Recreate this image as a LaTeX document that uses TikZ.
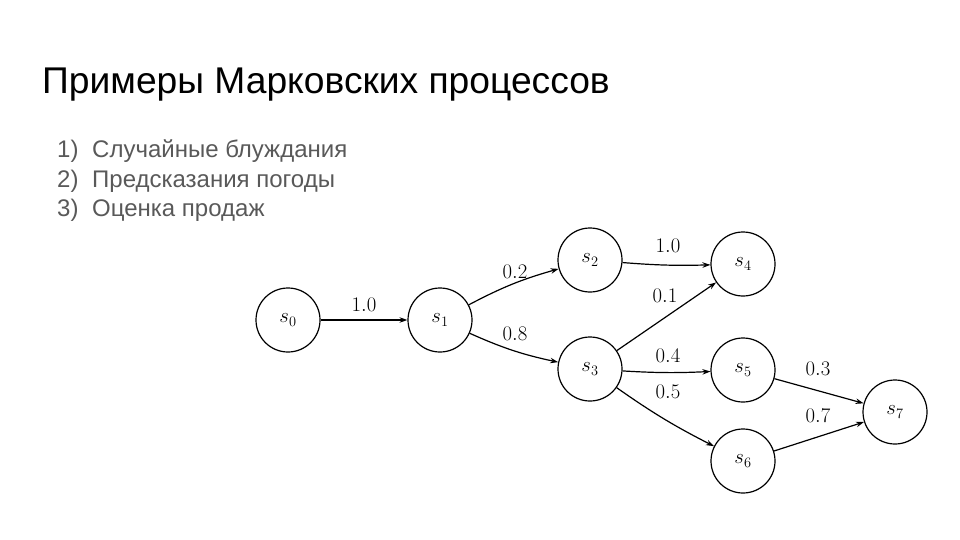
\documentclass[tikz,border=0pt]{standalone}
\usepackage{fontspec}
\setmainfont{Liberation Sans}
\usetikzlibrary{arrows.meta}
\definecolor{listgray}{HTML}{595959}
\tikzset{
  state/.style={circle, draw, line width=1.2pt, minimum size=64pt, inner sep=0pt, font=\fontsize{20}{24}\selectfont},
  trans/.style={line width=1.2pt, -{Stealth[length=8pt,width=5.5pt]}},
  prob/.style={font=\fontsize{20}{24}\selectfont, inner sep=0pt},
  title/.style={anchor=base west, font=\fontsize{37.2}{44}\selectfont, inner sep=0pt},
  item/.style={anchor=base west, text=listgray, font=\fontsize{24}{28}\selectfont, inner sep=0pt},
}
\begin{document}
\begin{tikzpicture}[x=1pt,y=-1pt]
\useasboundingbox (0,0) rectangle (960,540);
\node[title] (t) at (42,94) {Примеры Марковских процессов};
\node[item] (n1) at (57,158) {1)};
\node[item] (i1) at (92,158) {Случайные блуждания};
\node[item] (n2) at (57,187) {2)};
\node[item] (i2) at (92,187) {Предсказания погоды};
\node[item] (n3) at (57,216) {3)};
\node[item] (i3) at (92,216) {Оценка продаж};

\node[state] (s0) at (288,320) {$s_0$};
\node[state] (s1) at (440,320) {$s_1$};
\node[state] (s2) at (590,260) {$s_2$};
\node[state] (s3) at (590,369) {$s_3$};
\node[state] (s4) at (743,264) {$s_4$};
\node[state] (s5) at (743,370) {$s_5$};
\node[state] (s6) at (743,461) {$s_6$};
\node[state] (s7) at (895,412) {$s_7$};

\draw[trans] (s0) -- (s1);
\draw[trans] (s1) to[bend left=6] (s2);
\draw[trans] (s1) to[bend right=6] (s3);
\draw[trans] (s2) to[bend right=3] (s4);
\draw[trans] (s3) -- (s4);
\draw[trans] (s3) to[bend right=3] (s5);
\draw[trans] (s3) to[bend right=4] (s6);
\draw[trans] (s5) -- (s7);
\draw[trans] (s6) -- (s7);

\node[prob] (p01) at (364,305) {$1.0$};
\node[prob] (p12) at (515,272) {$0.2$};
\node[prob] (p13) at (515,334) {$0.8$};
\node[prob] (p24) at (668,246) {$1.0$};
\node[prob] (p34) at (665,296) {$0.1$};
\node[prob] (p35) at (668,356) {$0.4$};
\node[prob] (p36) at (668,392) {$0.5$};
\node[prob] (p57) at (818,369) {$0.3$};
\node[prob] (p67) at (818,416) {$0.7$};
\end{tikzpicture}
\end{document}
